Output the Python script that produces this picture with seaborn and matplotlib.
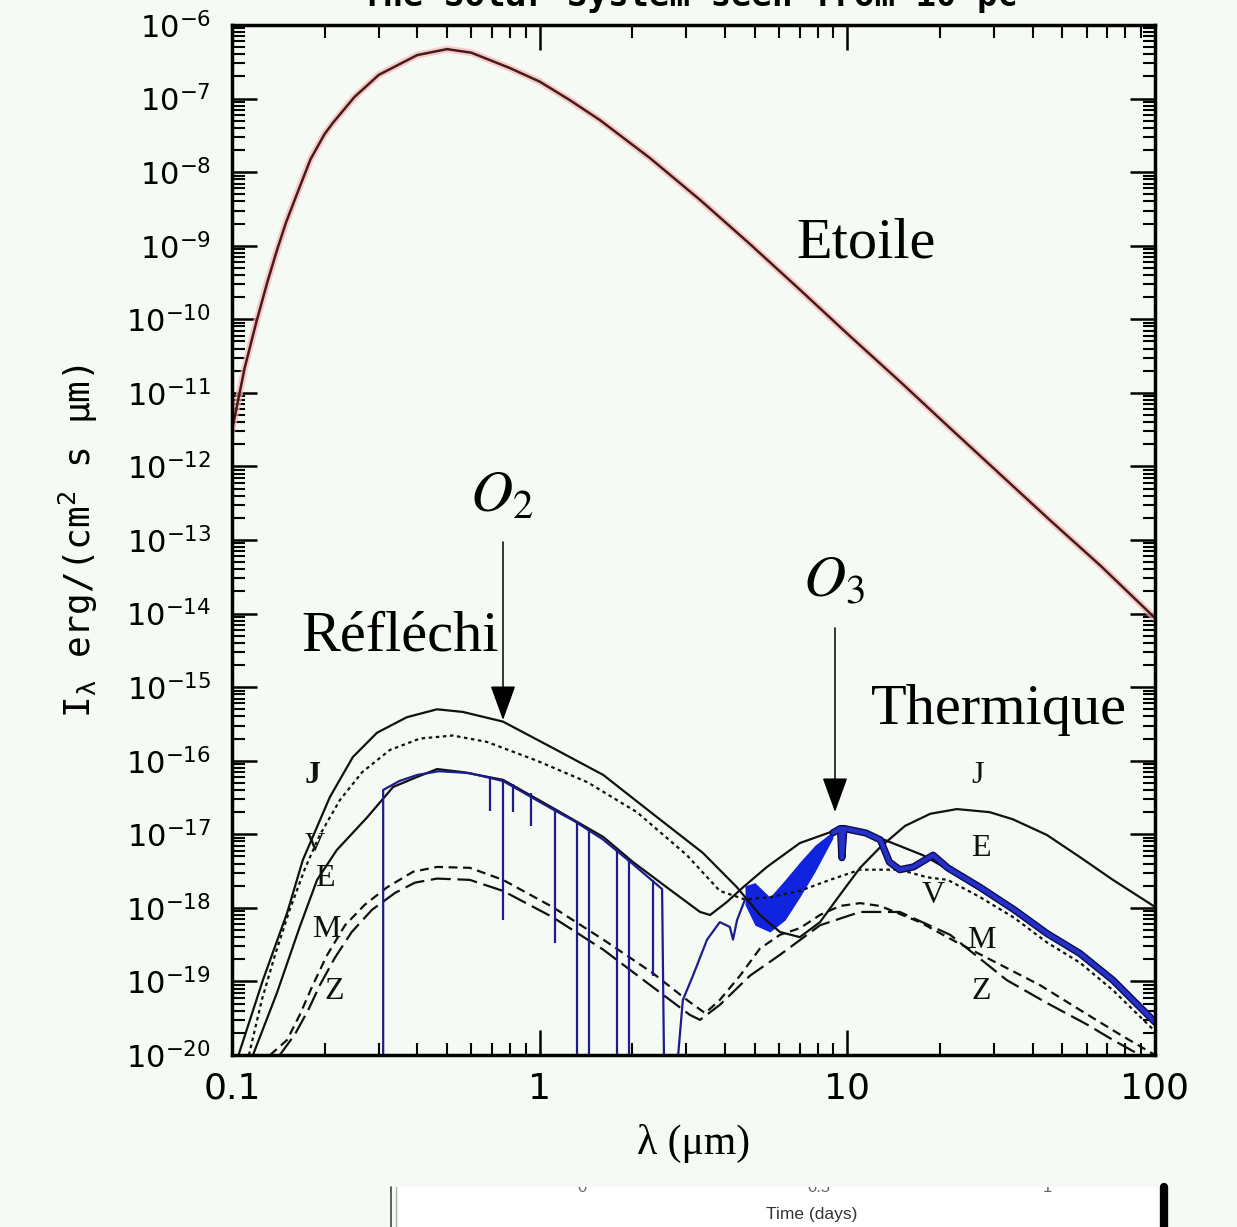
"""Star + Solar System planets seen from 10 pc: reflected and thermal
spectra on log-log axes (values read off the reference figure)."""
import matplotlib
matplotlib.use("Agg")
import matplotlib.pyplot as plt
import matplotlib.patheffects as pe
import seaborn as sns
from matplotlib.lines import Line2D
from matplotlib.patches import Rectangle
from matplotlib.ticker import LogLocator, NullFormatter, LogFormatterSciNotation

# --- data: wavelength in micron, intensity in erg/(cm2 s micron) ---
star_lam = [0.10, 0.11, 0.12, 0.13, 0.14, 0.15, 0.166, 0.18, 0.20, 0.213, 0.25,
            0.30, 0.40, 0.50, 0.60, 0.80, 1.0, 1.25, 1.57, 2.28, 3.32, 4.83,
            7.03, 10.2, 14.9, 21.6, 31.3, 45.5, 66.8, 100]
star_I = [3.1e-12, 2.2e-11, 9.2e-11, 3.1e-10, 8.7e-10, 2.1e-9, 6.3e-9, 1.5e-8,
          3.3e-8, 4.7e-8, 1.05e-7, 2.1e-7, 3.9e-7, 4.7e-7, 4.2e-7, 2.6e-7,
          1.7e-7, 9.6e-8, 5.1e-8, 1.56e-8, 4.2e-9, 1.05e-9, 2.5e-10, 5.9e-11,
          1.4e-11, 3.3e-12, 7.9e-13, 1.87e-13, 4.4e-14, 8.7e-15]

jup_lam = [0.105, 0.126, 0.151, 0.170, 0.208, 0.247, 0.296, 0.370, 0.464, 0.563,
           0.760, 1.10, 1.61, 2.33, 3.39, 4.38, 5.20, 6.04, 7.01, 8.15,
           9.46, 11.0, 12.8, 15.4, 18.6, 22.7, 29.0, 34.5, 44.5, 57.0, 73.0, 100]
jup_I = [1.0e-20, 1.04e-19, 8.5e-19, 4.5e-18, 3.2e-17, 1.12e-16, 2.4e-16, 3.9e-16,
         5.0e-16, 4.6e-16, 3.4e-16, 1.5e-16, 6.4e-17, 1.9e-17, 5.6e-18, 1.9e-18,
         8.0e-19, 4.7e-19, 4.0e-19, 6.4e-19, 1.5e-18, 3.5e-18, 6.7e-18, 1.3e-17,
         1.9e-17, 2.2e-17, 2.0e-17, 1.6e-17, 9.8e-18, 4.9e-18, 2.4e-18, 1.03e-18]

ven_lam = [0.1135, 0.125, 0.138, 0.154, 0.173, 0.193, 0.224, 0.265, 0.326, 0.408,
           0.522, 0.674, 0.980, 1.43, 2.07, 3.01, 3.85, 4.65, 5.60, 7.01,
           8.78, 11.0, 14.8, 18.2, 21.2, 27.0, 34.9, 44.5, 57.0, 73.0, 100]
ven_I = [1.0e-20, 5.6e-20, 2.3e-19, 9.4e-19, 3.5e-18, 9.8e-18, 2.9e-17, 7.0e-17,
         1.4e-16, 2.0e-16, 2.2e-16, 1.8e-16, 1.0e-16, 5.1e-17, 2.0e-17, 5.2e-18,
         1.7e-18, 1.3e-18, 1.4e-18, 1.7e-18, 2.4e-18, 3.3e-18, 3.3e-18, 2.6e-18,
         2.4e-18, 1.4e-18, 7.3e-19, 3.4e-19, 1.8e-19, 7.6e-20, 2.1e-20]

earth_lam = [0.117, 0.140, 0.166, 0.189, 0.219, 0.275, 0.334, 0.399, 0.464, 0.563,
             0.760, 1.10, 1.61, 2.01, 2.59, 3.32, 3.58, 4.06, 4.58, 5.48,
             7.01, 8.98, 10.4, 12.5, 17.6, 27.0, 34.9, 44.5, 57.0, 73.0, 100]
earth_I = [1.0e-20, 7.0e-20, 5.5e-19, 2.4e-18, 6.1e-18, 1.7e-17, 4.4e-17, 6.0e-17,
           7.7e-17, 7.0e-17, 5.5e-17, 2.3e-17, 9.2e-18, 4.2e-18, 1.9e-18, 8.8e-19,
           8.0e-19, 1.2e-18, 1.9e-18, 3.6e-18, 7.6e-18, 1.1e-17, 1.2e-17, 9.2e-18,
           5.2e-18, 1.9e-18, 9.4e-19, 4.5e-19, 2.4e-19, 1.04e-19, 2.8e-20]

# Earth detailed spectrum (blue): reflected part, thermal part, H2O band blob
ers_lam = [0.31, 0.31, 0.35, 0.40, 0.47, 0.59, 0.76, 1.10, 1.30, 1.60, 2.00,
           2.50, 2.55, 2.69, 2.92, 3.15, 3.50, 3.85, 4.15, 4.25, 4.38, 4.65]
ers_I = [1e-21, 4.0e-17, 5.3e-17, 6.4e-17, 7.2e-17, 6.8e-17, 5.3e-17, 2.2e-17,
         1.5e-17, 8.6e-18, 4.0e-18, 1.8e-18, 1e-21, 1e-21, 5.6e-20, 1.2e-19,
         3.7e-19, 6.4e-19, 5.5e-19, 3.7e-19, 6.8e-19, 1.3e-18]
ert_lam = [8.98, 9.5, 9.6, 9.75, 11.5, 12.8, 13.7, 14.8, 16.4, 19.0, 21.2, 27.0,
           34.9, 44.5, 57.0, 73.0, 100]
ert_I = [1.05e-17, 1.2e-17, 4.8e-18, 1.2e-17, 1.04e-17, 8.4e-18, 4.2e-18, 3.3e-18,
         3.6e-18, 5.2e-18, 3.5e-18, 1.9e-18, 9.4e-19, 4.5e-19, 2.4e-19, 1.04e-19,
         2.8e-20]
blob_lam = [4.65, 5.01, 5.60, 6.27, 7.01, 7.85, 8.98]
blob_hi = [2.0e-18, 2.2e-18, 1.4e-18, 2.4e-18, 4.2e-18, 7.1e-18, 1.1e-17]
blob_lo = [1.1e-18, 5.8e-19, 4.7e-19, 6.8e-19, 1.4e-18, 3.1e-18, 8.9e-18]
abs_lam = [0.69, 0.76, 0.82, 0.94, 1.12, 1.32, 1.45, 1.78, 1.95, 2.33]
abs_top = [6.0e-17, 5.3e-17, 4.8e-17, 3.6e-17, 2.2e-17, 1.5e-17, 1.15e-17,
           6.2e-18, 4.6e-18, 2.4e-18]
abs_bottom = [2.1e-17, 6.8e-19, 2.0e-17, 1.3e-17, 3.3e-19, 1e-21, 1e-21, 1e-21,
              1e-21, 1.2e-19]

mars_lam = [0.133, 0.151, 0.166, 0.183, 0.204, 0.233, 0.270, 0.319, 0.388, 0.464,
            0.593, 0.760, 1.10, 1.61, 2.33, 3.01, 3.45, 3.85, 4.48, 5.20,
            6.04, 7.01, 8.15, 9.46, 11.0, 12.8, 17.2, 22.7, 31.3, 42.3, 57.0, 76.9, 100]
mars_I = [1.0e-20, 1.6e-20, 3.5e-20, 8.9e-20, 2.3e-19, 5.8e-19, 1.1e-18, 1.9e-18,
          3.1e-18, 3.6e-18, 3.5e-18, 2.4e-18, 1.03e-18, 3.7e-19, 1.3e-19, 5.6e-20,
          3.7e-20, 5.6e-20, 1.2e-19, 2.8e-19, 4.3e-19, 5.3e-19, 8.0e-19, 1.06e-18,
          1.16e-18, 1.06e-18, 6.4e-19, 3.4e-19, 1.7e-19, 8.9e-20, 4.1e-20, 1.9e-20, 1.0e-20]

zod_lam = [0.143, 0.160, 0.177, 0.193, 0.216, 0.245, 0.285, 0.339, 0.393, 0.464,
           0.593, 0.760, 1.10, 1.61, 2.33, 3.08, 3.32, 3.85, 4.83, 6.04,
           8.15, 11.0, 14.8, 21.6, 33.0, 44.5, 60.1, 73.0, 89.3]
zod_I = [1.0e-20, 1.9e-20, 4.1e-20, 8.9e-20, 2.1e-19, 4.7e-19, 9.4e-19, 1.6e-18,
         2.2e-18, 2.5e-18, 2.4e-18, 1.7e-18, 7.5e-19, 2.7e-19, 8.4e-20, 3.5e-20,
         3.0e-20, 4.8e-20, 1.2e-19, 2.3e-19, 5.8e-19, 8.8e-19, 8.8e-19, 4.3e-19,
         1.04e-19, 5.1e-20, 2.6e-20, 1.6e-20, 1.0e-20]

xtick_vals = [0.1, 1, 10, 100]
xtick_labels = ["0.1", "1", "10", "100"]
left_tags = ["J", "V", "E", "M", "Z"]
right_tags = ["J", "E", "V", "M", "Z"]
bottom_ticks = ["0", "0.5", "1"]

BG = "#f6faf4"
INK = "#111111"
NAVY = "#1c1c8c"
BLUE = "#1024e0"
W, H = 1237, 1227

sns.set_style("ticks")
plt.rcParams.update({
    "font.family": ["DejaVu Sans"],
    "axes.facecolor": BG, "figure.facecolor": BG, "savefig.facecolor": BG,
    "axes.linewidth": 2.5, "axes.edgecolor": "black",
    "text.color": "black", "axes.labelcolor": "black",
    "xtick.color": "black", "ytick.color": "black",
    "mathtext.fontset": "dejavusans",
})

fig = plt.figure(figsize=(W / 100, H / 100), dpi=100)
ax = fig.add_axes([232 / W, 1 - 1055 / H, 923 / W, 1030 / H])


def curve(lam, inten, **kw):
    sns.lineplot(x=lam, y=inten, ax=ax, sort=False, estimator=None, legend=False, **kw)


# star, with its pink halo
curve(star_lam, star_I, color="#f3b9b9", linewidth=5, alpha=0.7)
curve(star_lam, star_I, color="#4a1a1a", linewidth=1.8)

# planets
curve(jup_lam, jup_I, color=INK, linewidth=1.6)
curve(ven_lam, ven_I, color=INK, linewidth=1.6, linestyle=(0, (1.6, 1.6)))
curve(mars_lam, mars_I, color=INK, linewidth=1.6, linestyle=(0, (4, 2.5)))
curve(zod_lam, zod_I, color=INK, linewidth=1.6, linestyle=(0, (9, 3)))
curve(earth_lam, earth_I, color=INK, linewidth=1.6)
curve(ers_lam, ers_I, color=NAVY, linewidth=1.6)
ax.vlines(abs_lam, abs_bottom, abs_top, color=NAVY, linewidth=1.6)
ax.fill_between(blob_lam, blob_lo, blob_hi, color=BLUE, linewidth=0)
curve(ert_lam, ert_I, color="#2430c8", linewidth=3.2,
      path_effects=[pe.Stroke(linewidth=5.2, foreground="#0b0b50"), pe.Normal()])

ax.set_xscale("log")
ax.set_yscale("log")
ax.set_xlim(0.1, 100)
ax.set_ylim(1e-20, 1e-6)
ax.yaxis.set_major_locator(LogLocator(base=10, numticks=30))
ax.yaxis.set_minor_locator(LogLocator(base=10, subs=tuple(range(2, 10)), numticks=30))
ax.yaxis.set_major_formatter(LogFormatterSciNotation())
ax.yaxis.set_minor_formatter(NullFormatter())
ax.set_xticks(xtick_vals, xtick_labels)
ax.xaxis.set_minor_locator(LogLocator(base=10, subs=tuple(range(2, 10)), numticks=30))
ax.xaxis.set_minor_formatter(NullFormatter())

ax.tick_params(which="both", direction="in", top=True, right=True, color="black",
               labelcolor="black")
ax.tick_params(which="major", length=18, width=1.8)
ax.tick_params(which="minor", length=9, width=1.5)
ax.tick_params(axis="y", which="major", labelsize=22, pad=15)
ax.tick_params(axis="x", which="major", labelsize=26, pad=12)

ax.set_xlabel("λ (μm)", fontsize=30, family="Liberation Serif", color="black")
ax.xaxis.set_label_coords(0.5, -0.067)
ax.set_ylabel(r"I$_{\mathregular{λ}}$ erg/(cm$^{\mathregular{2}}$ s μm)",
              fontsize=26, family="DejaVu Sans Mono", color="black")
ax.yaxis.set_label_coords(-0.143, 0.499)

# big annotations
serif = dict(transform=ax.transAxes, ha="center", va="center",
             family="Liberation Serif", fontsize=42, color="black")
ax.text(0.687, 0.788, "Etoile", **serif)
ax.text(0.182, 0.406, "Réfléchi", **serif)
ax.text(0.831, 0.335, "Thermique", **serif)
ax.text(0.292, 0.544, r"$O_2$", transform=ax.transAxes, ha="center", va="center",
        fontsize=42, math_fontfamily="stix")
ax.text(0.652, 0.461, r"$O_3$", transform=ax.transAxes, ha="center", va="center",
        fontsize=42, math_fontfamily="stix")
arrow = dict(arrowstyle="-|>,head_length=1.1,head_width=0.4", mutation_scale=20,
             color="black", lw=1.1, shrinkA=0, shrinkB=0)
ax.annotate("", xy=(0.2936, 0.3252), xytext=(0.2936, 0.4981),
            xycoords="axes fraction", arrowprops=arrow)
ax.annotate("", xy=(0.6533, 0.2359), xytext=(0.6533, 0.4146),
            xycoords="axes fraction", arrowprops=arrow)

# planet tags
left_xy = [(0.0878, 0.2709), (0.0899, 0.2039), (0.1008, 0.1718), (0.1018, 0.1214), (0.1105, 0.0612)]
right_xy = [(0.8082, 0.2718), (0.8115, 0.2000), (0.7595, 0.1553), (0.8115, 0.1107), (0.8115, 0.0612)]
for tag, (tx, ty) in zip(left_tags, left_xy):
    ax.text(tx, ty, tag, transform=ax.transAxes, ha="center", va="center",
            family="Liberation Serif", fontsize=20 if tag == "V" else 23,
            weight="bold" if tag == "J" else "normal", color=INK)
for tag, (tx, ty) in zip(right_tags, right_xy):
    ax.text(tx, ty, tag, transform=ax.transAxes, ha="center", va="center",
            family="Liberation Serif", fontsize=23, color=INK)

# cropped title at the very top (only the bottoms of its letters show)
fig.text(690 / W, 1 - 6 / H, "The Solar System seen from 10 pc", ha="center",
         va="baseline", fontsize=24.5, family="DejaVu Sans Mono", weight="bold")

# cropped neighbouring figure at the bottom
y_cut = 1 - 1187 / H
fig.add_artist(Rectangle((395 / W, 0), (1162 - 395) / W, y_cut, transform=fig.transFigure,
                         facecolor="white", edgecolor="none", zorder=0))
for lbl, px in zip(bottom_ticks, [582, 819, 1047]):
    fig.text(px / W, 1 - 1188 / H, lbl, ha="center", va="center", fontsize=12,
             color="#666666", family="Liberation Sans", zorder=1)
fig.add_artist(Rectangle((395 / W, y_cut), (1162 - 395) / W, 22 / H, transform=fig.transFigure,
                         facecolor=BG, edgecolor="none", zorder=2))
fig.text(812 / W, 1 - 1214 / H, "Time (days)", ha="center", va="center", fontsize=12.5,
         color="#333333", family="Liberation Sans", zorder=3)
fig.add_artist(Line2D([391 / W] * 2, [0, y_cut], transform=fig.transFigure, color="#444444", lw=1.2))
fig.add_artist(Line2D([396 / W] * 2, [0, y_cut], transform=fig.transFigure, color="#aaaaaa", lw=1))
fig.add_artist(Line2D([1164 / W] * 2, [0, y_cut], transform=fig.transFigure, color="black", lw=6))

fig.savefig("out.png", dpi=100, facecolor=BG)
